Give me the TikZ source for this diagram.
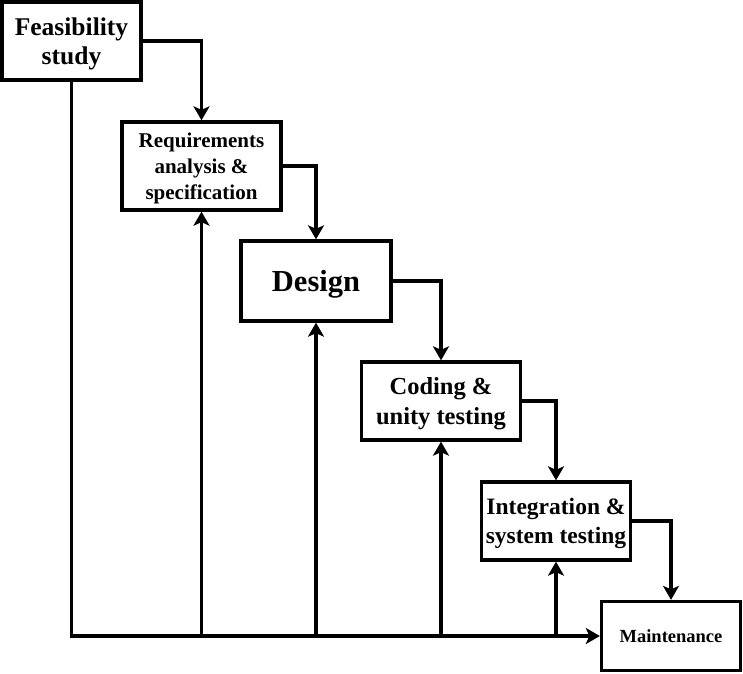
\documentclass[tikz,border=0pt]{standalone}
\usepackage{fontspec}
\setmainfont{Liberation Serif}
\usetikzlibrary{arrows.meta}
\tikzset{
  box/.style={draw=black, line width=3.3pt, fill=white, align=center, inner sep=0pt, text depth=0pt, font=\bfseries},
  link/.style={line width=3.3pt, -{Stealth[length=14pt,width=16pt,inset=3.5pt]}}
}
\begin{document}
\begin{tikzpicture}[x=1pt,y=-1pt]
\useasboundingbox (0,0) rectangle (743,673);
\node[box, minimum width=139pt, minimum height=78pt, font=\bfseries\fontsize{25.5}{29}\selectfont] (feas) at (71.5,41) {Feasibility\\study};
\node[box, minimum width=159pt, minimum height=88pt, font=\bfseries\fontsize{21}{26}\selectfont] (req) at (201.5,166) {Requirements\\analysis \&\\specification};
\node[box, minimum width=150pt, minimum height=80pt, font=\bfseries\fontsize{30.5}{36}\selectfont] (des) at (316,281) {Design};
\node[box, minimum width=159pt, minimum height=78pt, font=\bfseries\fontsize{24.5}{30.5}\selectfont] (cod) at (441,401) {Coding \&\\unity testing};
\node[box, minimum width=149pt, minimum height=78pt, font=\bfseries\fontsize{23.5}{29}\selectfont] (integ) at (556,521) {Integration \&\\system testing};
\node[box, minimum width=139pt, minimum height=69pt, font=\bfseries\fontsize{18.5}{22}\selectfont] (maint) at (671,636) {Maintenance};

\draw[link] (feas.east) -| (req.north);
\draw[link] (req.east) -| (des.north);
\draw[link] (des.east) -| (cod.north);
\draw[link] (cod.east) -| (integ.north);
\draw[link] (integ.east) -| (maint.north);

\draw[link] (feas.south) |- (maint.west);
\draw[link] (req.south |- maint.west) -- (req.south);
\draw[link] (des.south |- maint.west) -- (des.south);
\draw[link] (cod.south |- maint.west) -- (cod.south);
\draw[link] (integ.south |- maint.west) -- (integ.south);
\end{tikzpicture}
\end{document}
